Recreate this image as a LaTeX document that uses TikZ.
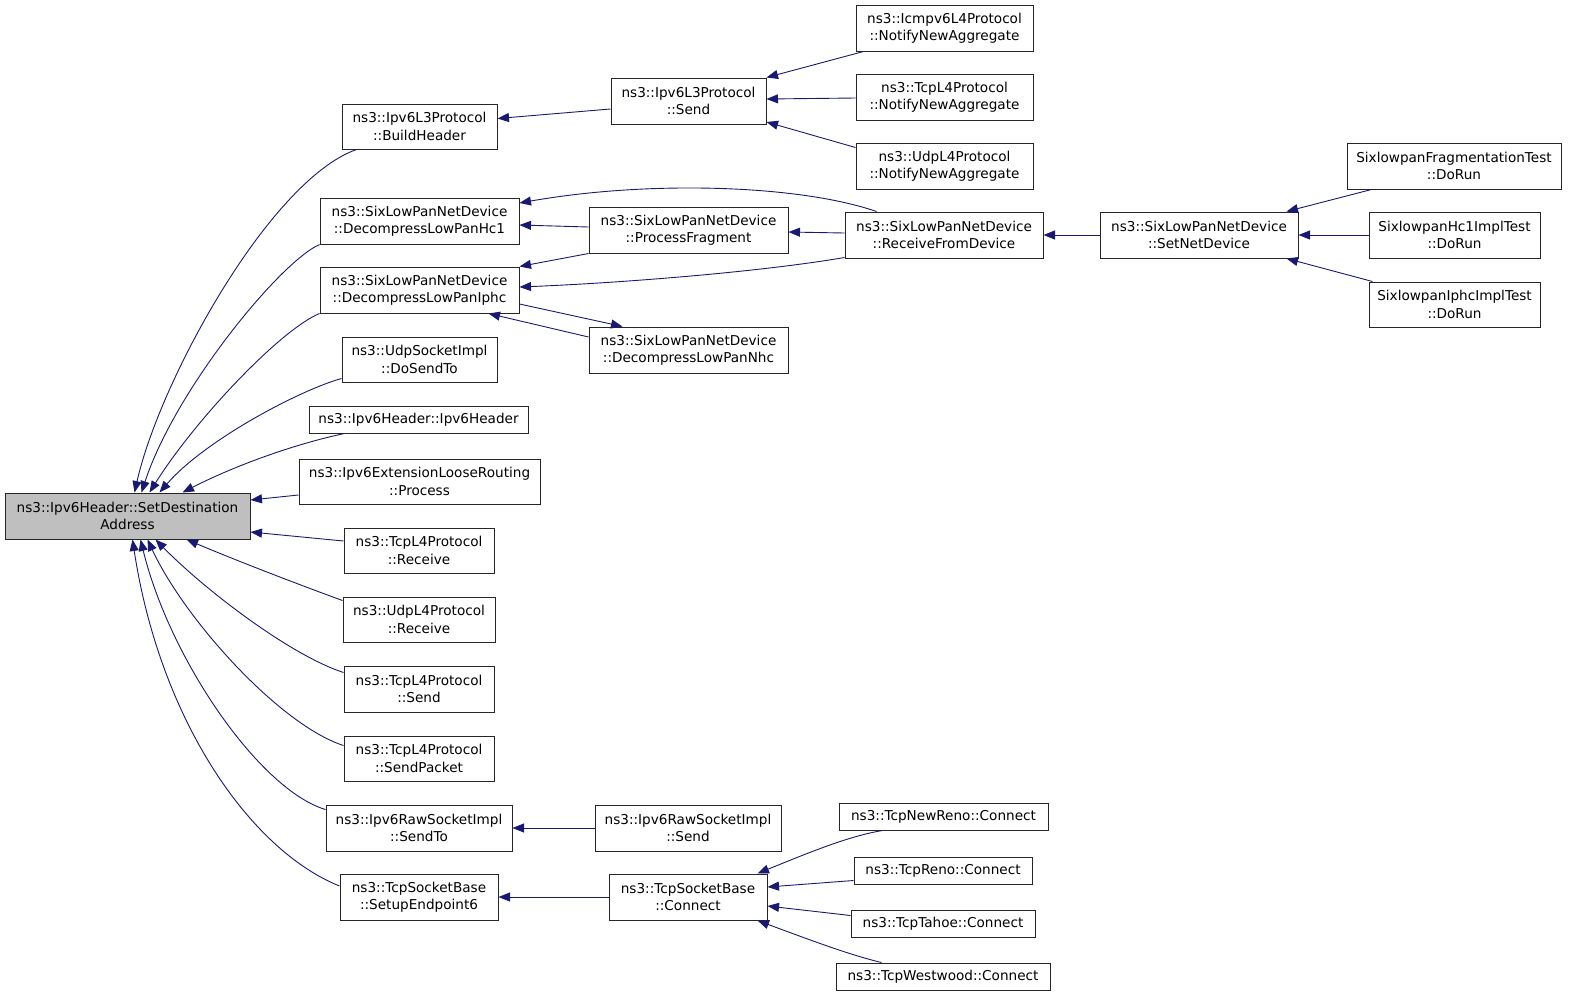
\documentclass[tikz,border=0pt]{standalone}
\usepackage{fontspec}
\setmainfont{DejaVu Sans}
\usetikzlibrary{arrows.meta,calc}
\definecolor{edgecol}{RGB}{25,25,112}
\definecolor{mainfill}{RGB}{191,191,191}
\tikzset{
  fn/.style={draw=black!85, line width=1pt, fill=white, inner sep=0pt, align=center,
    font=\fontsize{13.6pt}{17.5pt}\selectfont},
  mainnode/.style={fn, fill=mainfill},
  edge/.style={draw=edgecol, line width=0.9pt, -{Triangle[length=11.5pt,width=9pt]}}
}
\begin{document}
\begin{tikzpicture}[x=1pt,y=-1pt]
\useasboundingbox (0,0) rectangle (1571,999);
% nodes
\node[mainnode, minimum width=245pt, minimum height=46pt] (main) at (127.5,516) {ns3::Ipv6Header::SetDestination\\Address};
\node[fn, minimum width=155pt, minimum height=45pt] (build) at (419.5,126.5) {ns3::Ipv6L3Protocol\\::BuildHeader};
\node[fn, minimum width=155pt, minimum height=46pt] (l3send) at (688.5,101) {ns3::Ipv6L3Protocol\\::Send};
\node[fn, minimum width=199pt, minimum height=46pt] (hc1) at (419.5,221) {ns3::SixLowPanNetDevice\\::DecompressLowPanHc1};
\node[fn, minimum width=199pt, minimum height=46pt] (procfrag) at (688.5,230) {ns3::SixLowPanNetDevice\\::ProcessFragment};
\node[fn, minimum width=199pt, minimum height=46pt] (iphc) at (419.5,290) {ns3::SixLowPanNetDevice\\::DecompressLowPanIphc};
\node[fn, minimum width=199pt, minimum height=46pt] (nhc) at (688.5,350) {ns3::SixLowPanNetDevice\\::DecompressLowPanNhc};
\node[fn, minimum width=155pt, minimum height=45pt] (dosendto) at (419.5,359.5) {ns3::UdpSocketImpl\\::DoSendTo};
\node[fn, minimum width=219pt, minimum height=27pt] (ipv6hdr) at (418.5,419.5) {ns3::Ipv6Header::Ipv6Header};
\node[fn, minimum width=241pt, minimum height=45pt] (loose) at (419.5,481.5) {ns3::Ipv6ExtensionLooseRouting\\::Process};
\node[fn, minimum width=150pt, minimum height=45pt] (tcprecv) at (419,550.5) {ns3::TcpL4Protocol\\::Receive};
\node[fn, minimum width=152pt, minimum height=45pt] (udprecv) at (419,619.5) {ns3::UdpL4Protocol\\::Receive};
\node[fn, minimum width=150pt, minimum height=46pt] (tcpsend) at (419,689) {ns3::TcpL4Protocol\\::Send};
\node[fn, minimum width=150pt, minimum height=45pt] (sendpacket) at (419,758.5) {ns3::TcpL4Protocol\\::SendPacket};
\node[fn, minimum width=186pt, minimum height=46pt] (rawsendto) at (419,828) {ns3::Ipv6RawSocketImpl\\::SendTo};
\node[fn, minimum width=158pt, minimum height=46pt] (setup) at (419,897) {ns3::TcpSocketBase\\::SetupEndpoint6};
\node[fn, minimum width=186pt, minimum height=46pt] (rawsend) at (688,828) {ns3::Ipv6RawSocketImpl\\::Send};
\node[fn, minimum width=158pt, minimum height=46pt] (connect) at (688,897) {ns3::TcpSocketBase\\::Connect};
\node[fn, minimum width=177pt, minimum height=46pt] (icmpnotify) at (944.5,28) {ns3::Icmpv6L4Protocol\\::NotifyNewAggregate};
\node[fn, minimum width=177pt, minimum height=46pt] (tcpnotify) at (944.5,97) {ns3::TcpL4Protocol\\::NotifyNewAggregate};
\node[fn, minimum width=177pt, minimum height=46pt] (udpnotify) at (944.5,166) {ns3::UdpL4Protocol\\::NotifyNewAggregate};
\node[fn, minimum width=198pt, minimum height=46pt] (recvdev) at (944,235) {ns3::SixLowPanNetDevice\\::ReceiveFromDevice};
\node[fn, minimum width=198pt, minimum height=46pt] (setnetdev) at (1199,235) {ns3::SixLowPanNetDevice\\::SetNetDevice};
\node[fn, minimum width=214pt, minimum height=46pt] (fragtest) at (1454,166) {SixlowpanFragmentationTest\\::DoRun};
\node[fn, minimum width=171pt, minimum height=46pt] (hc1test) at (1454.5,235) {SixlowpanHc1ImplTest\\::DoRun};
\node[fn, minimum width=171pt, minimum height=45pt] (iphctest) at (1454.5,304.5) {SixlowpanIphcImplTest\\::DoRun};
\node[fn, minimum width=209pt, minimum height=27pt] (newreno) at (943.5,816.5) {ns3::TcpNewReno::Connect};
\node[fn, minimum width=178pt, minimum height=27pt] (reno) at (943,870.5) {ns3::TcpReno::Connect};
\node[fn, minimum width=184pt, minimum height=27pt] (tahoe) at (943,923.5) {ns3::TcpTahoe::Connect};
\node[fn, minimum width=214pt, minimum height=27pt] (westwood) at (943,976.5) {ns3::TcpWestwood::Connect};
% edges into main (top)
\draw[edge] ($(build.south west)+(15,0)$) .. controls (270,180) and (160,380) .. ($(main.north west)+(130,0)$);
\draw[edge] (hc1.south west) .. controls (280,262) and (175,390) .. ($(main.north west)+(137,0)$);
\draw[edge] (iphc.south west) .. controls (280,330) and (195,420) .. ($(main.north west)+(145,0)$);
\draw[edge] ($(dosendto.south west)+(0,-4)$) .. controls (300,390) and (205,440) .. ($(main.north west)+(155,0)$);
\draw[edge] ($(ipv6hdr.south west)+(36,0)$) .. controls (290,445) and (230,468) .. ($(main.north west)+(178,0)$);
% right side
\draw[edge] ($(loose.west)+(0,13.5)$) -- ($(main.east)+(0,-16)$);
\draw[edge] ($(tcprecv.west)+(0,-9.5)$) -- ($(main.east)+(0,16)$);
% bottom
\draw[edge] ($(udprecv.north west)+(0,4)$) .. controls (300,585) and (240,562) .. ($(main.south west)+(182,0)$);
\draw[edge] ($(tcpsend.north west)+(0,7)$) .. controls (290,655) and (205,590) .. ($(main.south west)+(151,0)$);
\draw[edge] ($(sendpacket.north west)+(0,10)$) .. controls (280,725) and (185,620) .. ($(main.south west)+(143,0)$);
\draw[edge] ($(rawsendto.north west)+(0,5)$) .. controls (260,790) and (170,660) .. ($(main.south west)+(136,0)$);
\draw[edge] ($(setup.west)+(0,-11)$) .. controls (250,850) and (160,720) .. ($(main.south west)+(128,0)$);
% second level
\draw[edge] ($(l3send.west)+(0,8)$) -- ($(build.east)+(0,-8)$);
\draw[edge] ($(icmpnotify.south west)+(8,0)$) -- (l3send.north east);
\draw[edge] ($(tcpnotify.west)+(0,1)$) -- ($(l3send.east)+(0,-2)$);
\draw[edge] ($(udpnotify.north west)+(0,5)$) -- ($(l3send.east)+(0,21)$);
\draw[edge] ($(recvdev.north west)+(32,0)$) .. controls (800,185) and (650,180) .. ($(hc1.east)+(0,-18)$);
\draw[edge] ($(procfrag.west)+(0,-3)$) -- ($(hc1.east)+(0,4)$);
\draw[edge] (procfrag.south west) -- (iphc.north east);
\draw[edge] ($(recvdev.south west)+(0,-1)$) .. controls (760,272) and (620,283) .. ($(iphc.east)+(0,-3)$);
\draw[edge] ($(iphc.east)+(0,14)$) -- ($(nhc.north west)+(34,0)$);
\draw[edge] ($(nhc.west)+(0,-13)$) -- ($(iphc.south east)+(-31,0)$);
\draw[edge] ($(recvdev.west)+(0,-2)$) -- ($(procfrag.east)+(0,2)$);
\draw[edge] (setnetdev.west) -- (recvdev.east);
\draw[edge] ($(fragtest.south west)+(25,0)$) -- ($(setnetdev.north east)+(-12,0)$);
\draw[edge] (hc1test.west) -- (setnetdev.east);
\draw[edge] ($(iphctest.north west)+(4,0)$) -- ($(setnetdev.south east)+(-12,0)$);
\draw[edge] (rawsend.west) -- (rawsendto.east);
\draw[edge] (connect.west) -- (setup.east);
\draw[edge] ($(newreno.south west)+(44,0)$) .. controls (850,836) and (815,850) .. ($(connect.north east)+(-10,0)$);
\draw[edge] ($(reno.west)+(0,10)$) -- ($(connect.east)+(0,-10)$);
\draw[edge] ($(tahoe.west)+(0,-8)$) -- ($(connect.east)+(0,9)$);
\draw[edge] ($(westwood.north west)+(46,0)$) .. controls (850,955) and (810,940) .. ($(connect.south east)+(-10,0)$);
\end{tikzpicture}
\end{document}
